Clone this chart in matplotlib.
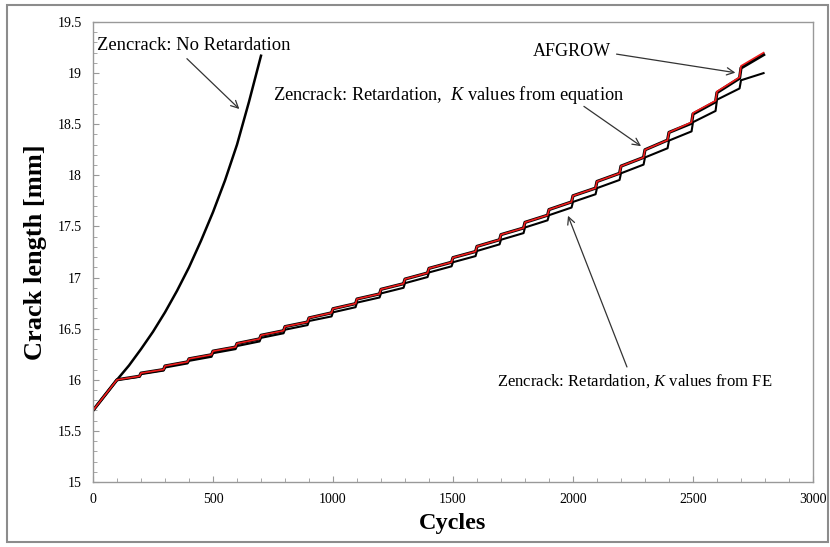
import matplotlib.pyplot as plt
from matplotlib.patches import Rectangle

plt.rcParams['font.family'] = ['Liberation Serif', 'DejaVu Serif']
plt.rcParams['mathtext.fontset'] = 'custom'
plt.rcParams['mathtext.rm'] = 'Liberation Serif'
plt.rcParams['mathtext.it'] = 'Liberation Serif:italic'

# Zencrack, no retardation
noret_cycles = [0, 50, 100, 150, 200, 250, 300, 350, 400, 450, 500, 550, 600, 650, 700]
noret_length = [15.70, 15.85, 16.00, 16.14, 16.30, 16.47, 16.66, 16.87, 17.10, 17.36,
                17.64, 17.95, 18.30, 18.72, 19.17]

# common start of the retarded curves
start_cycles = [0, 100]
start_length = [15.70, 16.00]

# overload steps every 100 cycles
step_cycles = [100, 200, 300, 400, 500, 600, 700, 800, 900, 1000, 1100, 1200, 1300, 1400,
               1500, 1600, 1700, 1800, 1900, 2000, 2100, 2200, 2300, 2400, 2500, 2600, 2700]

# AFGROW: length at start / end of each block
afgrow_start = [16.00, 16.065, 16.135, 16.205, 16.28, 16.355, 16.435, 16.52, 16.605, 16.695,
                16.79, 16.885, 16.985, 17.09, 17.195, 17.305, 17.42, 17.54, 17.665, 17.80,
                17.94, 18.09, 18.25, 18.42, 18.61, 18.82, 19.07]
afgrow_end = [16.035, 16.10, 16.175, 16.245, 16.32, 16.40, 16.48, 16.565, 16.655, 16.745,
              16.84, 16.94, 17.045, 17.15, 17.255, 17.37, 17.485, 17.61, 17.74, 17.875,
              18.02, 18.175, 18.345, 18.52, 18.73, 18.96, 19.20]

# Zencrack, K from equation (follows AFGROW)
eq_start = [16.00, 16.065, 16.135, 16.205, 16.28, 16.355, 16.435, 16.52, 16.605, 16.695,
            16.79, 16.885, 16.985, 17.09, 17.195, 17.305, 17.42, 17.54, 17.665, 17.80,
            17.94, 18.09, 18.25, 18.42, 18.60, 18.81, 19.05]
eq_end = [16.035, 16.10, 16.175, 16.245, 16.32, 16.40, 16.48, 16.565, 16.655, 16.745,
          16.84, 16.94, 17.045, 17.15, 17.255, 17.37, 17.485, 17.61, 17.74, 17.875,
          18.02, 18.175, 18.345, 18.51, 18.72, 18.95, 19.18]

# Zencrack, K from FE
fe_start = [16.00, 16.055, 16.12, 16.185, 16.26, 16.33, 16.41, 16.49, 16.575, 16.66,
            16.755, 16.845, 16.945, 17.05, 17.15, 17.26, 17.37, 17.49, 17.61, 17.74,
            17.875, 18.02, 18.175, 18.34, 18.52, 18.74, 18.93]
fe_end = [16.03, 16.09, 16.16, 16.225, 16.30, 16.375, 16.455, 16.535, 16.62, 16.71,
          16.805, 16.90, 17.005, 17.11, 17.21, 17.325, 17.435, 17.56, 17.685, 17.815,
          17.955, 18.105, 18.265, 18.43, 18.63, 18.85, 19.00]


def stairs(s, e, rise=6):
    xs = list(start_cycles)
    ys = list(start_length)
    for c, a, b in zip(step_cycles, s, e):
        xs += [c, c + 100 - rise]
        ys += [a, b]
    return xs, ys


fig = plt.figure(figsize=(8.3, 5.47), dpi=100)
ax = fig.add_axes([93/830, 1 - 482/547, (813-93)/830, (482-22)/547])

fig.patches.append(Rectangle((7/830, 5/547), 821/830, 537/547, transform=fig.transFigure,
                             fill=False, edgecolor='#8c8c8c', lw=1.5))

ax.plot(noret_cycles, noret_length, color='black', lw=1.8)
x, y = stairs(fe_start, fe_end)
ax.plot(x, y, color='black', lw=1.5)
x, y = stairs(eq_start, eq_end)
ax.plot(x, y, color='black', lw=2.3)
x, y = stairs(afgrow_start, afgrow_end)
ax.plot(x, y, color='#ee1c1c', lw=1.2)

ax.set_xlim(0, 3000)
ax.set_ylim(15, 19.5)
ax.set_xticks([0, 500, 1000, 1500, 2000, 2500, 3000])
ax.set_yticks([15, 15.5, 16, 16.5, 17, 17.5, 18, 18.5, 19, 19.5])
ax.set_yticklabels(['15', '15.5', '16', '16.5', '17', '17.5', '18', '18.5', '19', '19.5'])
ax.set_xticks(range(0, 3001, 100), minor=True)
ax.set_yticks([15 + 0.1 * i for i in range(46)], minor=True)
ax.tick_params(which='both', direction='in', color='#999999', labelsize=10, pad=8)
ax.tick_params(which='major', length=4)
ax.tick_params(which='minor', length=3)
for s in ax.spines.values():
    s.set_color('#999999')
    s.set_linewidth(1.0)

ax.set_xlabel('Cycles', fontsize=17.5, fontweight='bold', labelpad=5)
ax.set_ylabel('Crack length [mm]', fontsize=19, fontweight='bold', labelpad=8)

ax.text(17, 19.275, 'Zencrack: No Retardation', fontsize=13.4, va='center')
ax.text(750, 18.79, 'Zencrack: Retardation,  $K$ values from equation', fontsize=13.2, va='center')
ax.text(1833, 19.21, 'AFGROW', fontsize=13, va='center')
ax.text(1683, 15.99, 'Zencrack: Retardation, $K$ values from FE', fontsize=12, va='center')

arrow = dict(arrowstyle='->', color='#333333', lw=0.9, mutation_scale=13)
ax.annotate('', xy=(618, 18.63), xytext=(383, 19.16), arrowprops=arrow)
ax.annotate('', xy=(2293, 18.27), xytext=(2036, 18.69), arrowprops=arrow)
ax.annotate('', xy=(2688, 19.0), xytext=(2170, 19.19), arrowprops=arrow)
ax.annotate('', xy=(1975, 17.63), xytext=(2229, 16.10), arrowprops=arrow)

fig.savefig('out.png', dpi=100)
